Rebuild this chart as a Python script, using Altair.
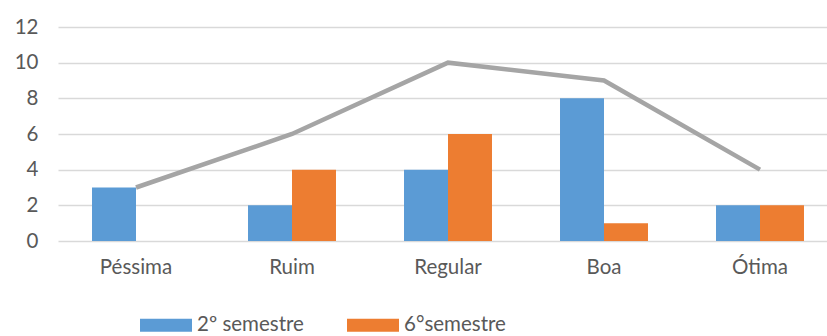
import altair as alt
import pandas as pd

categories = ["Péssima", "Ruim", "Regular", "Boa", "Ótima"]
sem2 = [3, 2, 4, 8, 2]
sem6 = [0, 4, 6, 1, 2]
total = [3, 6, 10, 9, 4]
series_names = ["2º semestre", "6°semestre"]
y_ticks = [0, 2, 4, 6, 8, 10, 12]

rows = []
for c, a, b in zip(categories, sem2, sem6):
    rows.append({"cat": c, "serie": series_names[0], "v": a})
    rows.append({"cat": c, "serie": series_names[1], "v": b})
bars_df = pd.DataFrame(rows)
line_df = pd.DataFrame({"cat": categories, "total": total})

font = "Lato"
text_color = "#595959"
fs = 20.5

xscale = alt.Scale(domain=categories, range=[0, 780], paddingInner=0.436, paddingOuter=0.218)
yscale = alt.Scale(domain=[0, 12], nice=False)

x_axis = alt.Axis(title=None, labelAngle=0, domain=False, ticks=False, grid=False,
                  labelFontSize=fs, labelColor=text_color, labelFont=font, labelPadding=16)
y_axis = alt.Axis(title=None, values=y_ticks, domain=False, ticks=False, grid=True,
                  gridColor="#d9d9d9", gridWidth=1.5, labelFontSize=fs, labelColor=text_color,
                  labelFont=font, labelPadding=20, labelOverlap=False)

bars = alt.Chart(bars_df).mark_bar().encode(
    x=alt.X("cat:N", sort=categories, scale=xscale, axis=x_axis),
    xOffset=alt.XOffset("serie:N", sort=series_names),
    y=alt.Y("v:Q", scale=yscale, axis=y_axis),
    color=alt.Color("serie:N", sort=series_names,
                    scale=alt.Scale(domain=series_names, range=["#5b9bd5", "#ed7d31"]),
                    legend=alt.Legend(title=None, orient="none", direction="horizontal",
                                      legendX=82, legendY=272,
                                      symbolType="M-1,-0.25H1V0.25H-1Z", symbolSize=2704,
                                      symbolStrokeWidth=0, symbolOpacity=1,
                                      labelFontSize=fs, labelColor=text_color, labelFont=font,
                                      labelOffset=5, columnPadding=43, padding=0)),
)

line = alt.Chart(line_df).mark_line(color="#a5a5a5", strokeWidth=4.5).encode(
    x=alt.X("cat:N", sort=categories, scale=xscale, axis=x_axis),
    y=alt.Y("total:Q", scale=yscale, axis=y_axis),
)

chart = alt.layer(bars, line).properties(
    width=769, height=214,
    autosize=alt.AutoSizeParams(type="none"),
    padding={"left": 58, "top": 27, "right": 0, "bottom": 95},
).configure_view(stroke=None)

chart.save("out.html", embed_options={"renderer": "svg", "actions": False})
